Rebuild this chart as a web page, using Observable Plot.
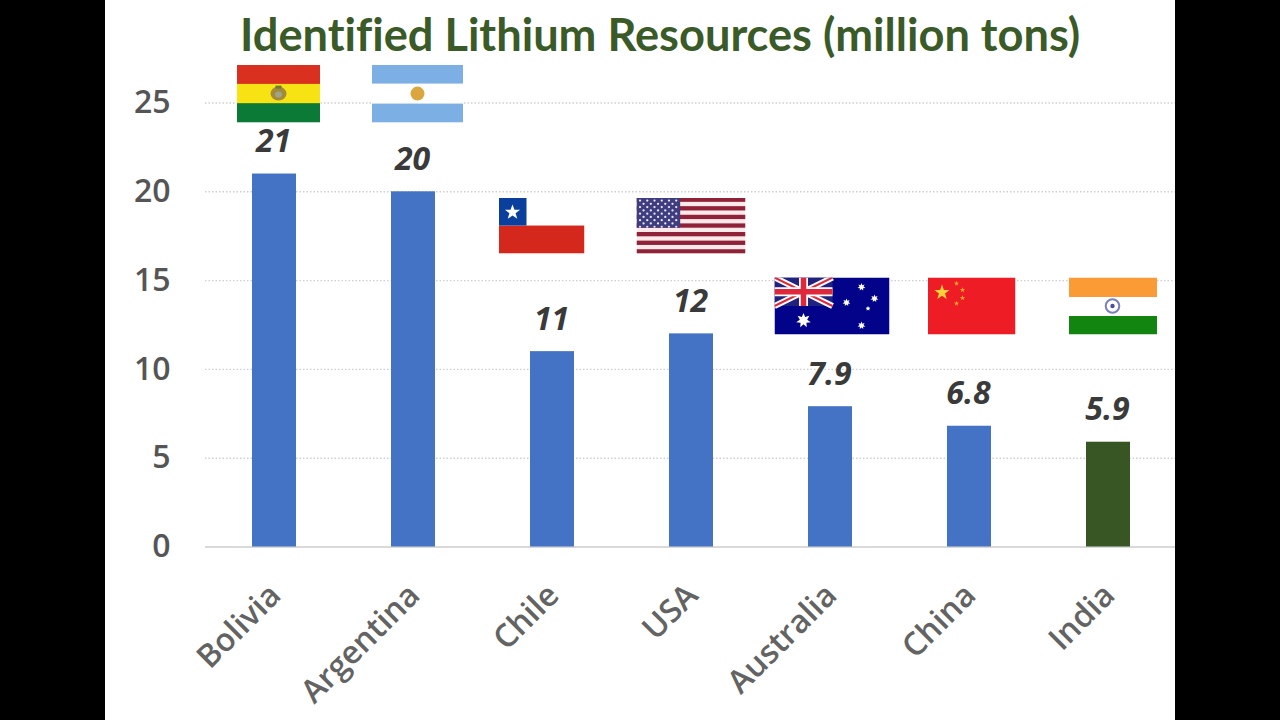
<!DOCTYPE html>
<html>
<head>
<meta charset="utf-8">
<script src="https://cdn.jsdelivr.net/npm/d3@7"></script>
<script src="https://cdn.jsdelivr.net/npm/@observablehq/plot@0.6"></script>
<style>
html,body{margin:0;padding:0;background:#000;width:1280px;height:720px;overflow:hidden}
#panel{position:absolute;left:105px;top:0;width:1070px;height:720px;background:#fff}
#wrap{position:absolute;left:0;top:0;width:1175px}
#title{height:60px;box-sizing:border-box;padding-left:240px;padding-top:9px;font:700 45.2px/50px Lato,sans-serif;font-variant-ligatures:none;color:#3a5a28;white-space:nowrap}
</style>
</head>
<body>
<div id="panel"></div>
<div id="wrap">
<div id="title">Identified Lithium Resources (million tons)</div>
<div id="chart"></div>
</div>
<script>
const titleText = "Identified Lithium Resources (million tons)";
const countries = ["Bolivia","Argentina","Chile","USA","Australia","China","India"];
const resources = [21,20,11,12,7.9,6.8,5.9];
const valueLabels = ["21","20","11","12","7.9","6.8","5.9"];
const barFills = ["#4472c4","#4472c4","#4472c4","#4472c4","#4472c4","#4472c4","#375623"];
const yTicks = [0,5,10,15,20,25];
// Height on the value axis at which each flag sits
const flagLevels = [25.53,25.53,18.1,18.1,13.57,13.57,13.57];
const flagShiftX = [4,4,-11,-0.5,1.5,2,4.5];
const flagWidths = [83,91,86,109,115,88,88];
const flagHeights = [58,58,56,56,57,57,57];

const usaStripes = [0,2,4,6,8,10,12].map(i=>`<rect y="${i*10}" width="247" height="10" fill="#8f2239"/>`).join("");
const usaStars = d3.range(9).flatMap(r=>d3.range(r%2?5:6).map(c=>`<circle cx="${(r%2?16:8)+c*16.4}" cy="${7+r*7.6}" r="2.6" fill="#e8e8f4"/>`)).join("");
const star = (cx,cy,r,fill,n=5,inner=0.4)=>{
  const pts=d3.range(n*2).map(i=>{const a=-Math.PI/2+i*Math.PI/n,q=i%2?r*inner:r;return (cx+q*Math.cos(a)).toFixed(2)+","+(cy+q*Math.sin(a)).toFixed(2)}).join(" ");
  return `<polygon points="${pts}" fill="${fill}"/>`;
};
const flagArt = [
 // Bolivia
 `<svg xmlns="http://www.w3.org/2000/svg" viewBox="0 0 83 58" preserveAspectRatio="none"><rect width="83" height="20" fill="#d9301f"/><rect y="19.3" width="83" height="20" fill="#f7e214"/><rect y="38.6" width="83" height="19.4" fill="#0b7a37"/><ellipse cx="41.5" cy="29" rx="8" ry="7" fill="#a58a3a"/><ellipse cx="41.5" cy="30" rx="3.5" ry="3" fill="#9aa58a"/><rect x="38.5" y="21" width="6" height="3" fill="#6f7a3a"/></svg>`,
 // Argentina
 `<svg xmlns="http://www.w3.org/2000/svg" viewBox="0 0 91 58" preserveAspectRatio="none"><rect width="91" height="58" fill="#fff"/><rect width="91" height="19" fill="#7cb0e4"/><rect y="39" width="91" height="19" fill="#7cb0e4"/><circle cx="45.5" cy="29" r="7" fill="#dca63f"/></svg>`,
 // Chile
 `<svg xmlns="http://www.w3.org/2000/svg" viewBox="0 0 86 56" preserveAspectRatio="none"><rect width="86" height="56" fill="#fff"/><rect y="28" width="86" height="28" fill="#d5281c"/><rect width="28" height="28" fill="#0b3f9e"/><polygon points="14,7 16,12.3 21.6,12.3 17.1,15.8 18.8,21.3 14,18 9.2,21.3 10.9,15.8 6.4,12.3 12,12.3" fill="#fff"/></svg>`,
 // USA
 `<svg xmlns="http://www.w3.org/2000/svg" viewBox="0 0 247 130" preserveAspectRatio="none"><rect width="247" height="130" fill="#fde9ea"/>${usaStripes}<rect width="99" height="70" fill="#3f3d80"/>${usaStars}</svg>`,
 // Australia
 `<svg xmlns="http://www.w3.org/2000/svg" viewBox="0 0 115 57" preserveAspectRatio="none"><rect width="115" height="57" fill="#03038a"/><g><rect width="58" height="28.5" fill="#20227f"/><path d="M0 0L58 28.5M58 0L0 28.5" stroke="#fff" stroke-width="6"/><path d="M0 0L58 28.5M58 0L0 28.5" stroke="#e0283c" stroke-width="2"/><path d="M29 0V28.5M0 14.25H58" stroke="#fff" stroke-width="9"/><path d="M29 0V28.5M0 14.25H58" stroke="#e0283c" stroke-width="5.5"/></g>${star(29,43,7.5,"#fff",7,0.5)}${star(87,9.5,4,"#fff",7,0.5)}${star(72,25,4,"#fff",7,0.5)}${star(100,21,4,"#fff",7,0.5)}${star(87,48,4,"#fff",7,0.5)}${star(93.5,31,2.5,"#fff",5,0.5)}</svg>`,
 // China
 `<svg xmlns="http://www.w3.org/2000/svg" viewBox="0 0 88 57" preserveAspectRatio="none"><rect width="88" height="57" fill="#ee1c25"/>${star(14.5,15,8,"#ffd23a")}${star(29,6,2.8,"#f6a623")}${star(35,12.5,2.8,"#f6a623")}${star(35,20.5,2.8,"#f6a623")}${star(29,26,2.8,"#f6a623")}</svg>`,
 // India
 `<svg xmlns="http://www.w3.org/2000/svg" viewBox="0 0 88 57" preserveAspectRatio="none"><rect width="88" height="57" fill="#fff"/><rect width="88" height="19.5" fill="#fb9b35"/><rect y="38.5" width="88" height="18.5" fill="#128511"/><circle cx="43.5" cy="28.5" r="6.8" fill="none" stroke="#7a7fc0" stroke-width="2"/><circle cx="43.5" cy="28.5" r="2.2" fill="#4a4f98"/></svg>`
];

const rows = countries.map((country,i)=>({
  country, value:resources[i], label:valueLabels[i], fill:barFills[i],
  level:flagLevels[i], w:flagWidths[i], h:flagHeights[i], dx:flagShiftX[i],
  src:"data:image/svg+xml;charset=utf-8,"+encodeURIComponent(flagArt[i])
}));

document.getElementById("title").textContent = titleText;

const chart = Plot.plot({
  width:1175, height:660,
  marginLeft:205, marginRight:0, marginTop:42.5, marginBottom:173.5,
  style:{background:"transparent",fontFamily:"'Open Sans',sans-serif",overflow:"visible"},
  x:{domain:countries,range:[205,1178],paddingInner:0.683,paddingOuter:0.3415,align:0.5},
  y:{domain:[0,25],ticks:yTicks},
  color:{type:"identity"},
  marks:[
    Plot.ruleY(yTicks.filter(d=>d>0),{stroke:"#cfcfcf",strokeWidth:1.4,strokeDasharray:"1.5 2"}),
    Plot.ruleY([0],{stroke:"#d9d9d9",strokeWidth:2}),
    Plot.barY(rows,{x:"country",y:"value",fill:"fill"}),
    Plot.text(rows,{x:"country",y:"value",text:"label",dx:-1,dy:-32,fontSize:32,fontWeight:700,fontStyle:"italic",fill:"#3a3a3a"}),
    ...rows.map(r=>Plot.image([r],{x:"country",y:"level",src:"src",width:"w",height:"h",dx:r.dx,preserveAspectRatio:"none"})),
    Plot.axisY({ticks:yTicks,tickSize:0,tickPadding:35,fontSize:32,fontWeight:600,color:"#555555",label:null}),
    Plot.axisX({tickSize:0,tickPadding:43,dx:1,tickRotate:-45,fontSize:32,fontWeight:600,color:"#636363",label:null})
  ]
});
document.getElementById("chart").appendChild(chart);
</script>
</body>
</html>
